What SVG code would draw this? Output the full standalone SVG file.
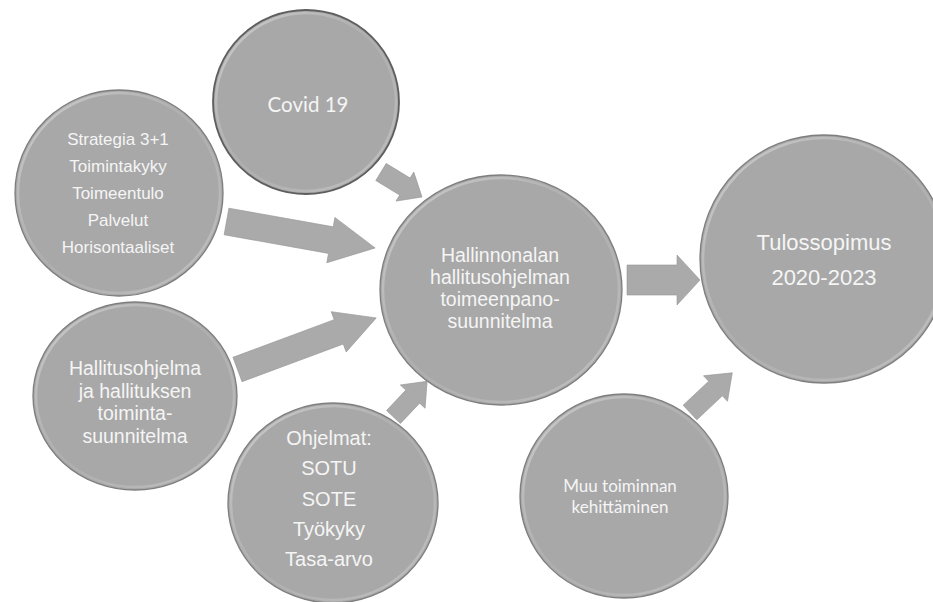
<svg xmlns="http://www.w3.org/2000/svg" width="933" height="602" viewBox="0 0 933 602">
<defs>
<linearGradient id="rim" x1="0" y1="0" x2="1" y2="1">
<stop offset="0" stop-color="#d4d4d4" stop-opacity="0.9"/>
<stop offset="0.5" stop-color="#bdbdbd" stop-opacity="0.3"/>
<stop offset="1" stop-color="#c9c9c9" stop-opacity="0.8"/>
</linearGradient>
<style>
.c{fill:#a8a8a8;stroke:#7e7e7e;stroke-width:1.3}
.r{fill:none;stroke:url(#rim);stroke-width:2.5}
.arr{fill:#aaaaaa;stroke:#959595;stroke-width:0.6}
.t{font-family:"Liberation Sans",Arial,sans-serif;fill:#f5f5f5;text-anchor:middle}
.l{font-family:Lato,"Open Sans",sans-serif;fill:#f5f5f5;text-anchor:middle}
</style>
</defs>
<rect width="933" height="602" fill="#ffffff"/>
<g id="connectors">
<polygon class="arr" points="0,-10 28,-10 28,-17 48,0 28,17 28,10 0,10" transform="translate(381,172) rotate(31.4)"/>
<polygon class="arr" points="0,-13.5 106,-13.5 106,-23 151,0 106,23 106,13.5 0,13.5" transform="translate(226.5,221.5) rotate(10.1)"/>
<polygon class="arr" points="0,-13 108,-13 108,-21.5 148,0 108,21.5 108,13 0,13" transform="translate(237.5,369.5) rotate(-20.4)"/>
<polygon class="arr" points="0,-9.5 28,-9.5 28,-17 49,0 28,17 28,9.5 0,9.5" transform="translate(393.5,417) rotate(-46.7)"/>
<polygon class="arr" points="0,-15 50,-15 50,-25 73,0 50,25 50,15 0,15" transform="translate(627,280)"/>
<polygon class="arr" points="0,-10 35,-10 35,-17.5 58,0 35,17.5 35,10 0,10" transform="translate(690,412.5) rotate(-43.2)"/>
</g>
<g id="covid">
<ellipse class="c" cx="306" cy="102" rx="93" ry="92" style="stroke:#5e5e5e;stroke-width:1.8"/>
<ellipse class="r" cx="306" cy="102" rx="90" ry="89"/>
<text class="l" x="308" y="112" font-size="20.5">Covid 19</text>
</g>
<g id="strategia">
<ellipse class="c" cx="119" cy="193" rx="104" ry="103"/>
<ellipse class="r" cx="119" cy="193" rx="101" ry="100"/>
<text class="t" font-size="17"><tspan x="118" y="145">Strategia 3+1</tspan><tspan x="118" y="172">Toimintakyky</tspan><tspan x="118" y="199">Toimeentulo</tspan><tspan x="118" y="226">Palvelut</tspan><tspan x="118" y="253">Horisontaaliset</tspan></text>
</g>
<g id="hallitusohjelma">
<ellipse class="c" cx="135" cy="396" rx="102" ry="94"/>
<ellipse class="r" cx="135" cy="396" rx="99" ry="91"/>
<text class="t" font-size="19.5"><tspan x="135" y="375">Hallitusohjelma</tspan><tspan x="135" y="397.5">ja hallituksen</tspan><tspan x="135" y="420">toiminta-</tspan><tspan x="135" y="442.5">suunnitelma</tspan></text>
</g>
<g id="hallinnonala">
<ellipse class="c" cx="501" cy="290" rx="121" ry="115"/>
<ellipse class="r" cx="501" cy="290" rx="118" ry="112"/>
<text class="t" font-size="19.5"><tspan x="500" y="262">Hallinnonalan</tspan><tspan x="500" y="284">hallitusohjelman</tspan><tspan x="500" y="306">toimeenpano-</tspan><tspan x="500" y="328">suunnitelma</tspan></text>
</g>
<g id="ohjelmat">
<ellipse class="c" cx="333" cy="503" rx="105" ry="100"/>
<ellipse class="r" cx="333" cy="503" rx="102" ry="97"/>
<text class="t" font-size="20"><tspan x="329" y="445">Ohjelmat:</tspan><tspan x="329" y="475">SOTU</tspan><tspan x="329" y="506">SOTE</tspan><tspan x="329" y="536">Työkyky</tspan><tspan x="329" y="566">Tasa-arvo</tspan></text>
</g>
<g id="tulossopimus">
<ellipse class="c" cx="824" cy="259" rx="124" ry="124"/>
<ellipse class="r" cx="824" cy="259" rx="121" ry="121"/>
<text class="t" font-size="22"><tspan x="824" y="250">Tulossopimus</tspan><tspan x="824" y="285">2020-2023</tspan></text>
</g>
<g id="muu">
<ellipse class="c" cx="624" cy="496" rx="104" ry="102"/>
<ellipse class="r" cx="624" cy="496" rx="101" ry="99"/>
<text class="l" font-size="17"><tspan x="620" y="492">Muu toiminnan</tspan><tspan x="620" y="513">kehittäminen</tspan></text>
</g>
</svg>
